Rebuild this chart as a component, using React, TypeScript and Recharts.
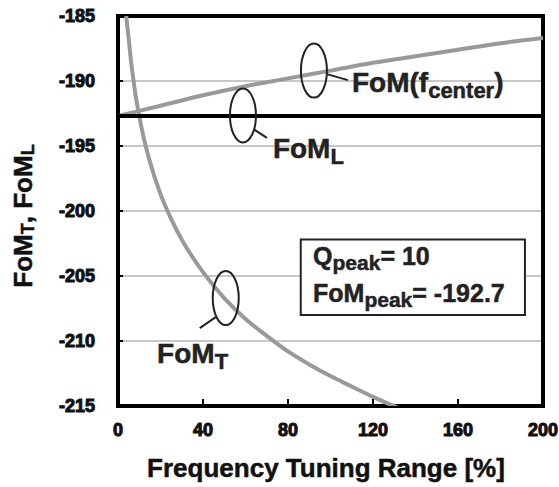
import { ComposedChart, Line, XAxis, YAxis, CartesianGrid, ReferenceArea, ReferenceDot, Label } from 'recharts';

const xTicks = [0, 40, 80, 120, 160, 200];
const yTicks = [-215, -210, -205, -200, -195, -190, -185];

// FoM_L: flat at the peak value
const flatX = [0, 200];
const flatY = [-192.7, -192.7];

// FoM(f_center): slowly rising grey line
const centerX = [0, 20, 40, 60, 80, 100, 120, 140, 160, 180, 200];
const centerY = [-192.7, -191.9, -191.1, -190.4, -189.8, -189.2, -188.6, -188.1, -187.6, -187.1, -186.7];

// FoM_T: steep drop, runs out of the bottom near 134 %
const tuneX = [3.8, 5, 6, 7, 8, 10, 12, 15, 20, 25, 30, 40, 50, 60, 70, 80, 90, 100, 110, 120, 134];
const tuneY = [-184.9, -186.7, -188.3, -189.6, -190.8, -192.7, -194.3, -196.2, -198.7, -200.6, -202.2, -204.7, -206.7, -208.3, -209.6, -210.8, -211.8, -212.7, -213.5, -214.3, -215.3];

// annotation loops and their tags
const loopX = [92.2, 58.8, 50.7];
const loopY = [-189.2, -192.65, -206.7];
const tagMain = ['FoM(f', 'FoM', 'FoM'];
const tagSub = ['center', 'L', 'T'];
const tagTail = [')', '', ''];
const tagX = [110.1, 72.9, 18.4];
const tagY = [-190.85, -195.92, -211.69];

// info box
const boxX = [86, 191.5];
const boxY = [-208, -202.2];
const boxMain = ['Q', 'FoM'];
const boxSub = ['peak', 'peak'];
const boxTail = ['= 10', '= -192.7'];
const boxTextX = 91.8;
const boxTextY = [-204.15, -207.0];

const zip = (xs: number[], ys: number[]) => xs.map((x, i) => ({ x, y: ys[i] }));
const flatData = zip(flatX, flatY);
const centerData = zip(centerX, centerY);
const tuneData = zip(tuneX, tuneY);

const FONT = 'Arial, "Liberation Sans", Helvetica, sans-serif';
const bold = { fontWeight: 700, fontFamily: FONT };
const leader = [
  [13, 3.5, 34, 9.5],
  [11, 14, 24, 22.5],
  [-10, 19, -26, 30],
];

const XTick = ({ x, y, payload }: any) => (
  <g>
    {payload.value > 0 && payload.value < 200 && (
      <line x1={x} x2={x} y1={y} y2={y - 7} stroke="#000" strokeWidth={2} />
    )}
    <text x={x} y={y + 30} textAnchor="middle" fontSize={18} style={bold} fill="#111" stroke="#111" strokeWidth={1}>
      {payload.value}
    </text>
  </g>
);

const YTick = ({ x, y, payload }: any) => (
  <g>
    <line x1={x} x2={x + 5} y1={y} y2={y} stroke="#000" strokeWidth={2} />
    <text x={x - 23} y={y + 6} textAnchor="end" fontSize={18} style={bold} fill="#111" stroke="#111" strokeWidth={1}>
      {payload.value}
    </text>
  </g>
);

const loopShape = (i: number) => (p: any) => {
  const [a, b, c, d] = leader[i];
  return (
    <g>
      <ellipse cx={p.cx} cy={p.cy} rx={13} ry={27} fill="none" stroke="#222" strokeWidth={2} />
      <line x1={p.cx + a} y1={p.cy + b} x2={p.cx + c} y2={p.cy + d} stroke="#222" strokeWidth={2} />
    </g>
  );
};

const tagShape = (main: string, sub: string, tail: string, size: number, subSize: number, shift: number) => (p: any) => (
  <text x={p.cx} y={p.cy} fontSize={size} style={bold} fill="#222" stroke="#222" strokeWidth={0.5}>
    {main}
    <tspan fontSize={subSize} dy={shift}>{sub}</tspan>
    {tail ? <tspan fontSize={size} dy={-shift}>{tail}</tspan> : null}
  </text>
);

export default function App() {
  return (
    <div style={{ position: 'absolute', left: 0, top: 0 }}>
      <ComposedChart width={559} height={487} margin={{ top: 16, right: 16, bottom: 0, left: 0 }}>
        <CartesianGrid vertical={false} stroke="#c8c8c8" strokeWidth={2} />
        <XAxis
          type="number"
          dataKey="x"
          domain={[0, 200]}
          ticks={xTicks}
          interval={0}
          allowDataOverflow
          height={81}
          tickSize={0}
          tickMargin={0}
          axisLine={false}
          tickLine={false}
          tick={<XTick />}
        >
          <Label
            content={() => (
              <text x={326} y={477} textAnchor="middle" fontSize={26} style={bold} fill="#111" stroke="#111" strokeWidth={0.5}>
                Frequency Tuning Range [%]
              </text>
            )}
          />
        </XAxis>
        <YAxis
          type="number"
          domain={[-215, -185]}
          ticks={yTicks}
          interval={0}
          allowDataOverflow
          width={118}
          tickSize={0}
          tickMargin={0}
          axisLine={false}
          tickLine={false}
          tick={<YTick />}
        >
          <Label
            content={() => (
              <text
                x={32}
                y={216}
                transform="rotate(-90, 32, 216)"
                textAnchor="middle"
                fontSize={26}
                style={bold}
                fill="#111"
                stroke="#111"
                strokeWidth={0.5}
              >
                FoM<tspan fontSize={18} dy={2}>T</tspan>
                <tspan dy={-2}>, FoM</tspan>
                <tspan fontSize={18} dy={2}>L</tspan>
              </text>
            )}
          />
        </YAxis>

        <ReferenceArea
          x1={boxX[0]}
          x2={boxX[1]}
          y1={boxY[0]}
          y2={boxY[1]}
          fill="#fff"
          fillOpacity={1}
          stroke="#222"
          strokeWidth={2}
        />

        <Line data={centerData} dataKey="y" type="monotone" stroke="#999" strokeWidth={4} dot={false} isAnimationActive={false} />
        <Line data={tuneData} dataKey="y" type="monotone" stroke="#999" strokeWidth={4} dot={false} isAnimationActive={false} />
        <Line data={flatData} dataKey="y" type="linear" stroke="#000" strokeWidth={4} dot={false} isAnimationActive={false} />

        <ReferenceArea x1={0} x2={200} y1={-215} y2={-185} fill="none" stroke="#000" strokeWidth={4} />

        {loopX.map((x, i) => (
          <ReferenceDot key={'loop' + i} x={x} y={loopY[i]} r={1} shape={loopShape(i)} />
        ))}
        {tagX.map((x, i) => (
          <ReferenceDot
            key={'tag' + i}
            x={x}
            y={tagY[i]}
            r={1}
            shape={tagShape(tagMain[i], tagSub[i], tagTail[i], 28, 22, 6)}
          />
        ))}
        {boxTextY.map((y, i) => (
          <ReferenceDot
            key={'box' + i}
            x={boxTextX}
            y={y}
            r={1}
            shape={tagShape(boxMain[i], boxSub[i], boxTail[i], 25, 21, 5)}
          />
        ))}
      </ComposedChart>
    </div>
  );
}
